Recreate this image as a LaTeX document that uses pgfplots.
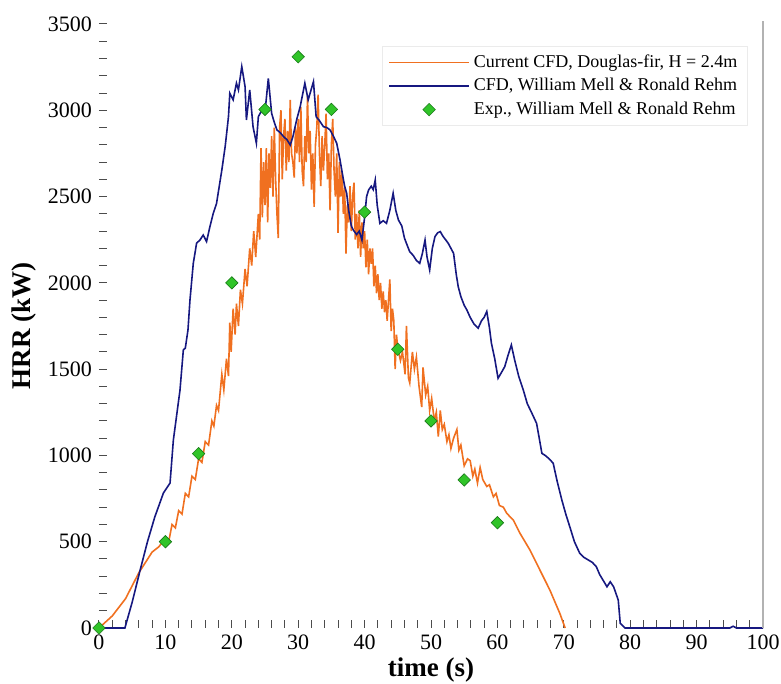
\documentclass[border=0pt]{standalone}
\usepackage{fontspec}
\setmainfont{Liberation Serif}
\usepackage{pgfplots}
\pgfplotsset{compat=1.18}

\definecolor{cfdorange}{RGB}{240,112,32}
\definecolor{mellblue}{RGB}{22,24,128}
\definecolor{expgreen}{RGB}{48,196,40}
\definecolor{expedge}{RGB}{24,120,24}

\begin{document}
\begin{tikzpicture}
\begin{axis}[
    scale only axis,
    width=332pt, height=302pt,
    xmin=0, xmax=100, ymin=0, ymax=3500,
    xtick={0,10,...,100},
    ytick={0,500,...,3500},
    minor xtick={0,2,...,100},
    minor ytick={0,100,...,3500},
    axis line style={draw=none},
    xtick pos=bottom, ytick pos=left,
    tick align=inside,
    major tick length=0pt,
    minor tick length=4pt,
    tick style={black!70, line width=0.5pt},
    /pgf/number format/assume math mode=true,
    /pgf/number format/set thousands separator={},
    tick label style={font=\fontsize{11}{13}\selectfont},
    xlabel={time (s)},
    ylabel={HRR (kW)},
    label style={font=\fontsize{13.5}{16}\selectfont\bfseries},
    xlabel style={at={(axis description cs:0.5,-0.0695)}, anchor=center},
    ylabel style={at={(axis description cs:-0.113,0.5)}, anchor=center},
    clip=false,
    legend cell align=left,
    legend style={at={(rel axis cs:0.977,0.963)}, anchor=north east,
      draw=black!8, fill=white, font=\fontsize{9}{11}\selectfont,
      inner xsep=3pt, inner ysep=2pt, row sep=0pt},
    legend image code/.code={\draw[mark repeat=2,mark phase=2,#1]
      plot coordinates {(0pt,0pt) (20pt,0pt) (40pt,0pt)};},
]
% current CFD, Douglas-fir
\addplot[cfdorange, line width=0.8pt] coordinates {
(0,0) (2,70) (4,170) (6,320) (8,440) (9,470) (10,520) (10.5,500) (11,600)
(11.5,580) (12,680) (12.5,660) (13,780) (13.5,760) (14,880) (14.5,860)
(15,980) (15.5,960) (16,1080) (16.5,1060) (17,1200) (17.3,1170) (17.7,1290)
(18,1260) (18.5,1470) (18.8,1380) (19.2,1560) (19.5,1460) (19.7,1770)
(19.9,1600) (20.2,1850) (20.5,1700) (20.7,1880) (21.0,1750) (21.3,1960)
(21.6,1880) (22.0,2080) (22.3,1980) (22.7,2200) (23.0,2100) (23.3,2300)
(23.6,2150) (24.0,2400) (24.2,2250) (24.4,2780) (24.6,2380) (24.8,2700)
(25.0,2450) (25.2,2780) (25.4,2350) (25.6,2750) (25.8,2550) (26.0,2850)
(26.2,2500) (26.4,2900) (26.6,2600) (26.8,2400) (27.0,2260) (27.2,2900)
(27.4,3000) (27.6,2600) (27.8,2850) (28.0,2950) (28.2,2650) (28.4,2880)
(28.6,2700) (28.8,3060) (29.0,2750) (29.2,2700) (29.4,2610) (29.6,2900)
(29.8,2750) (30.0,2950) (30.2,2700) (30.4,3020) (30.6,2650) (30.8,2560)
(31.0,2850) (31.2,2700) (31.4,3080) (31.6,2750) (31.8,2880) (32.0,2540)
(32.2,2750) (32.4,2440) (32.6,2800) (32.8,2900) (33.0,3090) (33.2,2750)
(33.4,2560) (33.6,2850) (33.8,2650) (34.0,2800) (34.2,2980) (34.4,2600)
(34.6,2750) (34.8,2420) (35.0,2800) (35.2,2950) (35.4,2650) (35.6,2500)
(35.8,2750) (36.0,2290) (36.2,2700) (36.4,2500) (36.6,2650) (36.8,2400)
(37.0,2550) (37.2,2170) (37.4,2450) (37.6,2350) (37.8,2560) (38.0,2300)
(38.2,2500) (38.4,2580) (38.6,2250) (38.8,2400) (39.0,2200) (39.2,2420)
(39.4,2150) (39.6,2350) (39.8,2200) (40.0,2300) (40.2,2090) (40.4,2250)
(40.6,2050) (40.8,2200) (41.0,2110) (41.2,2200) (41.4,1980) (41.6,2100)
(41.8,1940) (42.0,2050) (42.2,1900) (42.4,2000) (42.6,1850) (42.8,1950)
(43.0,1830) (43.2,1900) (43.4,1780) (43.6,1900) (43.8,2020) (44.0,1720)
(44.2,1850) (44.4,1780) (44.6,1500) (44.8,1700) (45.0,1620) (45.4,1550)
(45.7,1600) (46.1,1470) (46.3,1750) (46.6,1450) (46.8,1420) (47.2,1600)
(47.5,1500) (47.8,1570) (48.2,1400) (48.6,1280) (48.8,1510) (49.2,1350)
(49.5,1400) (49.8,1260) (50.1,1330) (50.5,1200) (50.8,1250) (51.1,1110)
(51.4,1260) (51.7,1150) (52.0,1180) (52.4,1080) (52.7,1120) (53.0,1040)
(53.4,1100) (53.9,1150) (54.2,1030) (54.5,1060) (55.0,940) (55.5,980)
(55.9,970) (56.3,880) (56.6,920) (57.0,840) (57.4,930) (57.8,860)
(58.4,820) (58.8,830) (59.4,760) (59.8,780) (60.3,710) (60.9,700)
(61.4,665) (62.4,625) (63.4,549) (64.9,452) (66.4,336) (67.9,220)
(69.4,85) (70.2,0)
};
\addlegendentry{Current CFD, Douglas-fir, H = 2.4m}
% CFD, Mell & Rehm
\addplot[mellblue, line width=0.8pt] coordinates {
(0,0) (3.9,0) (5,150) (6.2,336) (7.3,500) (8.4,643) (9.7,782) (10.7,840)
(11.2,1089) (12.2,1379) (12.7,1611) (13.0,1622) (13.4,1727) (13.7,1900)
(14.2,2113) (14.7,2230) (15.2,2248) (15.7,2277) (16.2,2239) (16.7,2325)
(17.2,2402) (17.7,2460) (18.5,2654) (19.0,2789) (19.5,2963) (19.7,3098)
(20.2,3060) (20.7,3157) (21.0,3118) (21.5,3253) (22.0,3137) (22.2,2944)
(22.7,3118) (23.2,2905) (23.7,2809) (24.0,2963) (24.7,3012) (25.0,2990)
(25.5,3185) (26.0,2982) (26.4,2930) (26.8,2886) (27.3,2870) (27.8,2847)
(28.3,2830) (28.8,2799) (29.2,2847) (29.8,2950) (30.3,3021) (31.0,3157)
(31.5,3060) (32.3,3166) (32.7,2963) (33.2,2940) (33.8,2905) (34.3,2900)
(34.8,2886) (35.3,2850) (35.8,2809) (36.3,2712) (36.8,2600) (37.0,2560)
(37.3,2519) (37.6,2420) (38.0,2330) (38.3,2306) (38.8,2280) (39.2,2300)
(39.6,2248) (40.0,2380) (40.3,2500) (40.6,2538) (41.0,2560) (41.3,2540)
(41.6,2596) (41.9,2450) (42.3,2345) (42.8,2360) (43.3,2345) (43.8,2420)
(44.3,2519) (44.7,2420) (45.1,2364) (45.6,2330) (46.0,2260) (46.3,2229)
(46.8,2180) (47.3,2160) (47.8,2130) (48.3,2113) (48.7,2170) (49.1,2248)
(49.4,2150) (49.8,2075) (50.2,2200) (50.6,2268) (51.0,2290) (51.4,2297)
(51.8,2270) (52.2,2250) (52.6,2229) (53.0,2200) (53.4,2171) (53.8,2050)
(54.1,1978) (54.5,1920) (55.0,1870) (55.4,1843) (55.9,1800) (56.5,1760)
(57.1,1737) (57.6,1780) (58.0,1800) (58.4,1834) (58.8,1740) (59.1,1650)
(59.6,1560) (60.1,1447) (60.6,1480) (61.1,1514) (61.6,1580) (62.1,1640)
(62.6,1553) (63.2,1460) (63.9,1379) (64.5,1300) (65.2,1244) (65.9,1186)
(66.3,1100) (66.7,1012) (67.2,1000) (67.8,980) (68.4,955) (69.0,850)
(69.7,742) (70.3,660) (70.9,587) (71.6,500) (72.4,433) (73.0,410)
(73.7,394) (74.3,380) (74.9,355) (75.4,310) (75.9,278) (76.5,239)
(77.0,268) (77.5,239) (78.2,162) (78.5,27) (79.2,0) (95,0) (95.5,10)
(96,0) (100,0)
};
\addlegendentry{CFD, William Mell \& Ronald Rehm}
% experiment
\addplot[only marks, mark=square*, mark size=2.2pt,
    mark options={rotate=45, fill=expgreen, draw=expedge, line width=0.3pt}] coordinates {
(0,0) (10,500) (15,1010) (20,2000) (25,3005) (30,3310) (35,3005)
(40,2410) (45,1615) (50,1200) (55,858) (60,610)
};
\addlegendentry{Exp., William Mell \& Ronald Rehm}
\draw[black!30, line width=0.6pt] (axis cs:100,0) -- (axis cs:100,3515);
\coordinate (bl) at (rel axis cs:0,0);
\coordinate (tr) at (rel axis cs:1,1);
\end{axis}
\pgfresetboundingbox
\path ([shift={(-49.5pt,-28pt)}]bl) rectangle ([shift={(9pt,12pt)}]tr);
\end{tikzpicture}
\end{document}
